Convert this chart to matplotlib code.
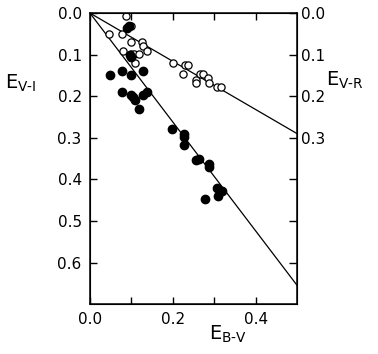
import matplotlib
matplotlib.use("Agg")
import matplotlib.pyplot as plt
import numpy as np

# colour excess E(V-I) vs E(B-V), filled points
vi_ebv = [0.048, 0.078, 0.098, 0.127, 0.078, 0.098, 0.105, 0.109, 0.127, 0.138,
          0.118, 0.090, 0.095, 0.097, 0.100, 0.197, 0.227, 0.227, 0.227, 0.256,
          0.264, 0.288, 0.288, 0.307, 0.318, 0.310, 0.278]
vi_exc = [0.149, 0.139, 0.149, 0.139, 0.190, 0.198, 0.202, 0.210, 0.198, 0.190,
          0.231, 0.035, 0.030, 0.100, 0.106, 0.280, 0.290, 0.298, 0.318, 0.354,
          0.350, 0.362, 0.370, 0.420, 0.427, 0.439, 0.448]

# colour excess E(V-R) vs E(B-V), open points
vr_ebv = [0.047, 0.077, 0.088, 0.098, 0.098, 0.126, 0.127, 0.138, 0.079, 0.098,
          0.106, 0.118, 0.109, 0.200, 0.229, 0.237, 0.225, 0.266, 0.274, 0.256,
          0.286, 0.256, 0.288, 0.306, 0.316]
vr_exc = [0.050, 0.050, 0.008, 0.030, 0.070, 0.070, 0.080, 0.090, 0.090, 0.098,
          0.098, 0.098, 0.120, 0.120, 0.125, 0.125, 0.147, 0.147, 0.147, 0.160,
          0.155, 0.169, 0.169, 0.178, 0.178]

# fitted ratios E(V-I)/E(B-V) and E(V-R)/E(B-V)
slope_vi = 1.31
slope_vr = 0.58

fig = plt.figure(figsize=(3.78, 3.54), dpi=100)
ax = fig.add_axes([0.238, 0.141, 0.548, 0.822])

xl = np.array([0.0, 0.5])
ax.plot(xl, slope_vi * xl, color="black", lw=0.9, zorder=1)
ax.plot(xl, slope_vr * xl, color="black", lw=0.9, zorder=1)
ax.plot(vr_ebv, vr_exc, "o", ms=5.2, mfc="white", mec="black", mew=0.9, zorder=3)
ax.plot(vi_ebv, vi_exc, "o", ms=6.0, mfc="black", mec="black", zorder=4)

ax.set_xlim(0, 0.5)
ax.set_ylim(0.7, 0)
ax.set_xticks([0.0, 0.1, 0.2, 0.3, 0.4])
ax.set_xticklabels(["0.0", "", "0.2", "", "0.4"])
ax.set_yticks([0.0, 0.1, 0.2, 0.3, 0.4, 0.5, 0.6])
ax.set_yticklabels(["0.0", "0.1", "0.2", "0.3", "0.4", "0.5", "0.6"])
ax.tick_params(direction="in", length=5, width=1, labelsize=11, pad=6,
               top=True)
for s in ax.spines.values():
    s.set_linewidth(1.1)

ax2 = ax.twinx()
ax2.set_ylim(0.7, 0)
ax2.set_yticks([0.0, 0.1, 0.2, 0.3, 0.4, 0.5, 0.6])
ax2.set_yticklabels(["0.0", "0.1", "0.2", "0.3", "", "", ""])
ax2.tick_params(direction="in", length=6, width=1, labelsize=11, pad=3)

fig.text(0.013, 0.75, r"$\mathregular{E_{V\text{-}I}}$", fontsize=14, ha="left", va="baseline")
fig.text(0.862, 0.757, r"$\mathregular{E_{V\text{-}R}}$", fontsize=14, ha="left", va="baseline")
fig.text(0.553, 0.04, r"$\mathregular{E_{B\text{-}V}}$", fontsize=14, ha="left", va="baseline")

fig.savefig("out.png", dpi=100)
